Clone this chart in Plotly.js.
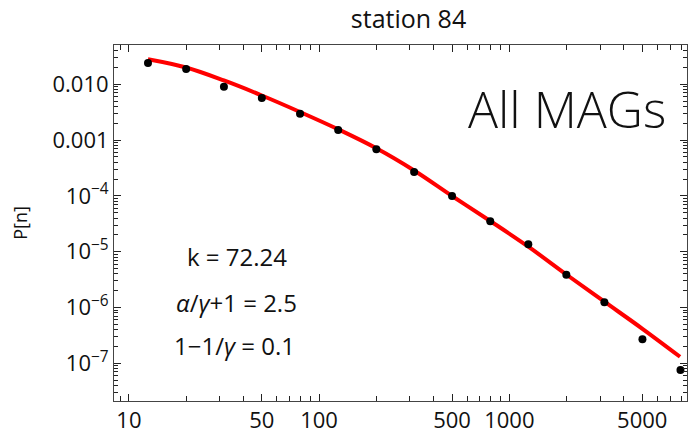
<!DOCTYPE html>
<html>
<head>
<meta charset="utf-8">
<script src="https://cdn.plot.ly/plotly-3.0.1.min.js"></script>
<style>html,body{margin:0;padding:0;background:#fff;}#chart{width:692px;height:435px;}</style>
</head>
<body>
<div id="chart"></div>
<script>
// observed data
const nValues = [12.6, 20, 31.6, 50, 79.4, 126, 200, 316, 500, 794, 1259, 1995, 3162, 5012, 7943];
const pValues = [0.0241, 0.0188, 0.00906, 0.00568, 0.00297, 0.00152, 6.84e-4, 2.68e-4, 9.96e-5, 3.51e-5, 1.36e-5, 3.87e-6, 1.24e-6, 2.69e-7, 7.59e-8];
// fitted curve
const fitN = [12.6, 20, 31.6, 50, 79.4, 126, 200, 316, 500, 794, 1259, 1995, 3162, 5012, 7900];
const fitP = [0.0281, 0.0200, 0.0117, 0.00630, 0.00319, 0.00156, 7.13e-4, 2.85e-4, 9.95e-5, 3.55e-5, 1.23e-5, 3.90e-6, 1.27e-6, 4.15e-7, 1.31e-7];
// ticks
const xTickVals = [10, 50, 100, 500, 1000, 5000];
const xTickText = ['10', '50', '100', '500', '1000', '5000'];
const yTickVals = [0.01, 0.001, 1e-4, 1e-5, 1e-6, 1e-7];
const yTickText = ['0.010', '0.001', '10<sup>\u22124</sup>', '10<sup>\u22125</sup>', '10<sup>\u22126</sup>', '10<sup>\u22127</sup>'];
const titleText = 'station 84';
const yLabel = 'P[n]';
const paramLines = ['k = 72.24', '<i>\u03b1</i>/<i>\u03b3</i>+1 = 2.5', '1\u22121/<i>\u03b3</i> = 0.1'];
const panelLabel = 'All MAGs';

function minorTicks(d0, d1) {
  const out = [];
  for (let d = d0; d <= d1; d++) {
    for (let k = 2; k <= 9; k++) out.push(k * Math.pow(10, d));
  }
  return out;
}

const FONT = 'Open Sans, Lato, sans-serif';

const traces = [
  {x: fitN, y: fitP, type: 'scatter', mode: 'lines',
   line: {color: '#ff0000', width: 4, shape: 'spline'}, hoverinfo: 'skip'},
  {x: nValues, y: pValues, type: 'scatter', mode: 'markers',
   marker: {color: '#000', size: 8}}
];

const axisCommon = {
  type: 'log', showgrid: false, zeroline: false,
  showline: true, linecolor: '#444', linewidth: 1, mirror: 'allticks',
  ticks: 'inside', tickcolor: '#222', tickwidth: 1,
  tickfont: {family: FONT, size: 22, color: '#111'}
};

const layout = {
  width: 692, height: 435,
  margin: {l: 114, r: 5, t: 45, b: 34},
  paper_bgcolor: '#fff', plot_bgcolor: '#fff',
  showlegend: false,
  title: {text: titleText, font: {family: FONT, size: 25, color: '#111'},
          x: 0.514, xref: 'paper', xanchor: 'center', y: 0.955, yanchor: 'middle'},
  xaxis: Object.assign({}, axisCommon, {
    range: [0.9217, 3.9343], tickmode: 'array', tickvals: xTickVals, ticktext: xTickText, ticklen: 7,
    minor: {tickmode: 'array', tickvals: minorTicks(0, 3).filter(v => v !== 500 && v !== 5000 && v !== 50 && v !== 5), ticks: 'inside', ticklen: 5, tickcolor: '#222', showgrid: false}
  }),
  yaxis: Object.assign({}, axisCommon, {
    range: [-7.676, -1.296], tickmode: 'array', tickvals: yTickVals, ticktext: yTickText, ticklen: 7,
    minor: {tickmode: 'array', tickvals: minorTicks(-9, -2), ticks: 'inside', ticklen: 4, tickcolor: '#222', showgrid: false},
    title: {text: yLabel, font: {family: FONT, size: 18, color: '#111'}, standoff: 20}
  }),
  annotations: [
    {text: paramLines[0], xref: 'paper', yref: 'paper', x: 0.214, y: 0.4045, showarrow: false, xanchor: 'center', yanchor: 'middle', font: {family: FONT, size: 24, color: '#111'}},
    {text: paramLines[1], xref: 'paper', yref: 'paper', x: 0.214, y: 0.278, showarrow: false, xanchor: 'center', yanchor: 'middle', font: {family: FONT, size: 24, color: '#111'}},
    {text: paramLines[2], xref: 'paper', yref: 'paper', x: 0.211, y: 0.1545, showarrow: false, xanchor: 'center', yanchor: 'middle', font: {family: FONT, size: 24, color: '#111'}},
    {text: panelLabel, xref: 'paper', yref: 'paper', x: 0.790, y: 0.82, showarrow: false, xanchor: 'center', yanchor: 'middle', font: {family: FONT, size: 50, color: '#111', weight: 300}}
  ]
};

Plotly.newPlot('chart', traces, layout, {displayModeBar: false, staticPlot: true});
</script>
</body>
</html>
